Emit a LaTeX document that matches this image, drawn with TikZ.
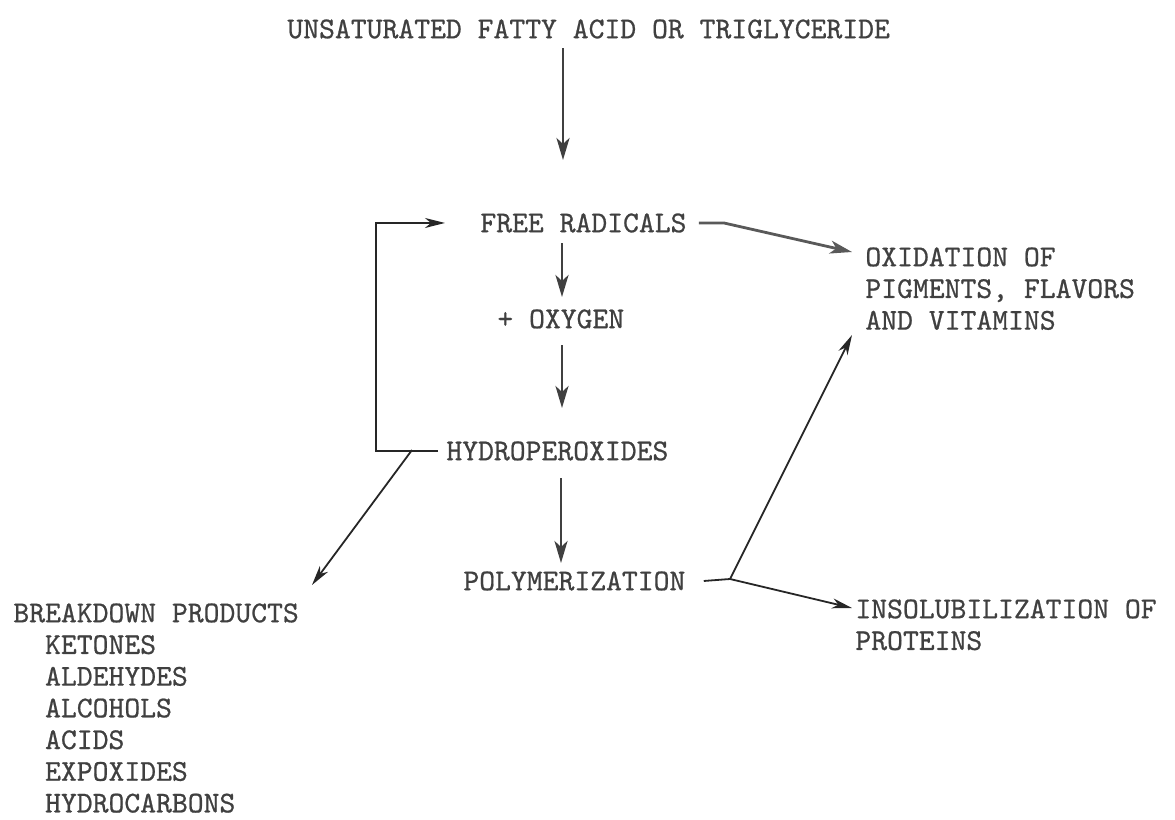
\documentclass[tikz,border=0pt]{standalone}
\usepackage{fontspec}
\usetikzlibrary{arrows.meta}
\newfontfamily\typewriter{lmmono10-regular.otf}[RawFeature={embolden=0.7}]
\begin{document}
\begin{tikzpicture}[x=0.5pt,y=-0.5pt,
  main node/.style={inner sep=0pt,anchor=north west,align=left,text=black!75,font=\typewriter\fontsize{15.1}{15.85}\selectfont},
  main arrow/.style={-{Stealth[length=11pt,width=6.5pt,inset=3pt]},line width=1.4pt,draw=black!75},
  side arrow/.style={-{Stealth[length=10pt,width=5pt,inset=3pt]},line width=0.9pt,draw=black!85}]
\useasboundingbox (0,0) rectangle (1175,820);
% text
\node[main node] (1) at (287,19) {UNSATURATED FATTY ACID OR TRIGLYCERIDE};
\node[main node] (2) at (480,213) {FREE RADICALS};
\node[main node] (3) at (497,309) {+ OXYGEN};
\node[main node] (4) at (446,441) {HYDROPEROXIDES};
\node[main node] (5) at (463,571) {POLYMERIZATION};
\node[main node] (6) at (865,247) {OXIDATION OF\\PIGMENTS, FLAVORS\\AND VITAMINS};
\node[main node] (7) at (855,599) {INSOLUBILIZATION OF\\PROTEINS};
\node[main node] (8) at (13,603) {BREAKDOWN PRODUCTS\\
  \phantom{XX}KETONES\\\phantom{XX}ALDEHYDES\\\phantom{XX}ALCOHOLS\\
  \phantom{XX}ACIDS\\\phantom{XX}EXPOXIDES\\\phantom{XX}HYDROCARBONS};
% points
\coordinate (b) at (412,450);
\coordinate (j) at (730,579);
% main chain
\draw[main arrow] (563,48) -- (563,160);
\draw[main arrow] (562,243) -- (562,297);
\draw[main arrow] (562,345) -- (562,408);
\draw[main arrow] (561,478) -- (561,563);
% loop back
\draw[side arrow] ([xshift=-4pt]4.west) -| ([xshift=-52pt]2.west) -- ([xshift=-17.5pt]2.west);
\draw[side arrow] (b) -- (312,585);
% to oxidation
\draw[main arrow,draw=black!65] ([xshift=6pt]2.east) -- ++(25,0) -- (852,252);
\draw[side arrow,-] ([xshift=9pt]5.east) -- (j);
\draw[side arrow] (j) -- (852,335);
\draw[side arrow] (j) -- (852,608);
\end{tikzpicture}
\end{document}
